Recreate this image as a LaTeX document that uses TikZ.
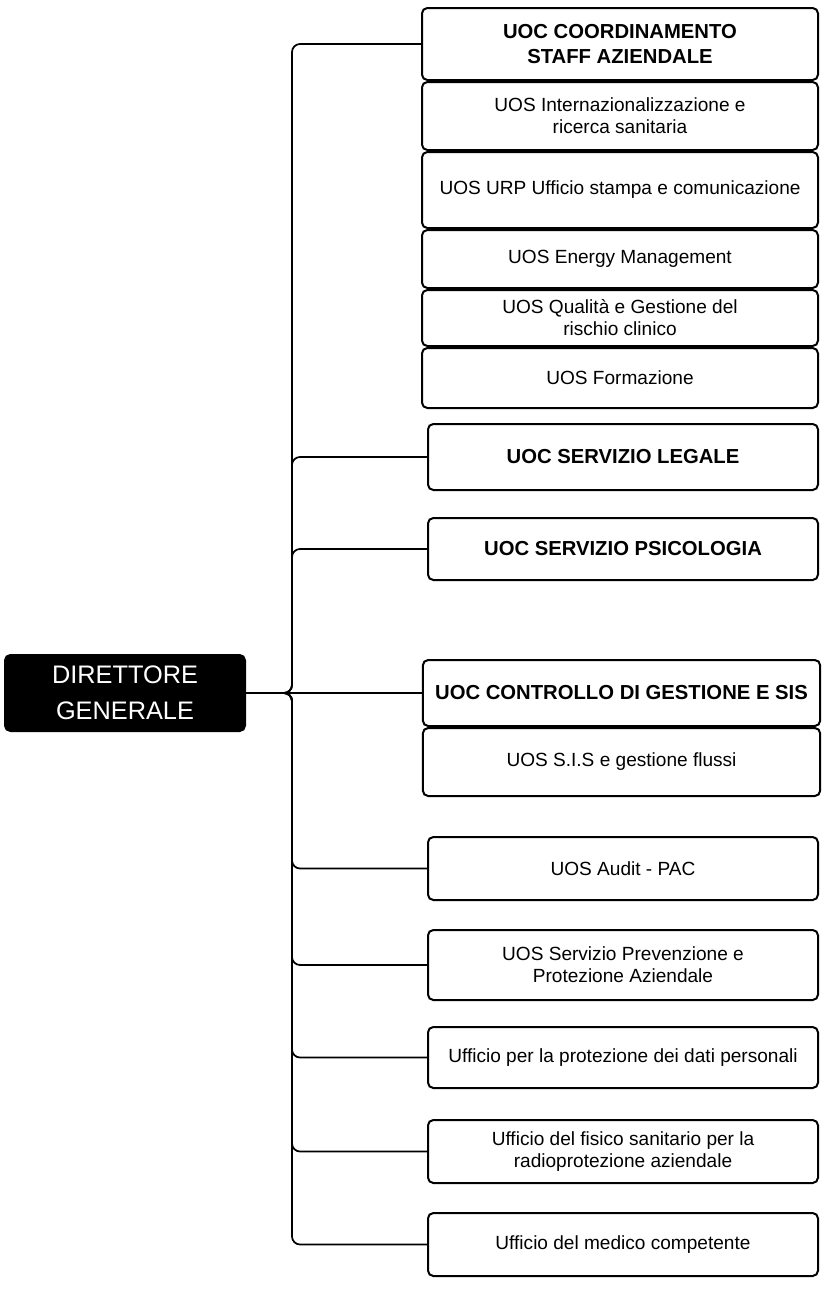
\documentclass[tikz,border=0pt]{standalone}
\usepackage{fontspec}
\setmainfont{Liberation Sans}
\usetikzlibrary{positioning}
\tikzset{
  unit/.style={rectangle, rounded corners=4pt, draw=black, line width=1.5pt, fill=white,
               align=center, minimum width=292.5pt, inner sep=2pt},
  uoc/.style={unit, font=\fontsize{15.2}{18.75}\selectfont\bfseries},
  uos/.style={unit, font=\fontsize{14.3}{16.5}\selectfont},
  headbox/.style={rectangle, rounded corners=4pt, draw=black, line width=1.5pt, fill=black,
                  text=white, align=center, minimum width=180pt, minimum height=57pt,
                  font=\fontsize{19}{27}\selectfont},
  link/.style={line width=1.3pt, rounded corners=6pt},
}

\begin{document}
\begin{tikzpicture}[x=0.75pt, y=-0.75pt]
\useasboundingbox (0,0) rectangle (824,1315);

\node[headbox] (dg) at (125,693) {DIRETTORE\\GENERALE};
\coordinate (trunk) at (292,693);

% staff aziendale
\node[uoc, minimum width=297pt, minimum height=54pt] (staff) at (620,44) {UOC COORDINAMENTO\\STAFF AZIENDALE};
\node[uos, minimum width=297pt, minimum height=51pt, below=0pt of staff] (intl) {UOS Internazionalizzazione e\\ricerca sanitaria};
\node[uos, minimum width=297pt, minimum height=57pt, below=0pt of intl] (urp) {UOS URP Ufficio stampa e comunicazione};
\node[uos, minimum width=297pt, minimum height=43.5pt, below=0pt of urp] (energy) {UOS Energy Management};
\node[uos, minimum width=297pt, minimum height=42pt, below=0pt of energy] (qual) {UOS Qualità e Gestione del\\rischio clinico};
\node[uos, minimum width=297pt, minimum height=45pt, below=0pt of qual] (form) {UOS Formazione};

\node[uoc, minimum height=49.5pt] (legale) at (623,457) {UOC SERVIZIO LEGALE};
\node[uoc, minimum height=46.5pt] (psico) at (623,549) {UOC SERVIZIO PSICOLOGIA};

% controllo di gestione
\node[uoc, minimum width=298pt, minimum height=49.5pt] (ctrl) at (621.5,693) {UOC CONTROLLO DI GESTIONE E SIS};
\node[uos, minimum width=298pt, minimum height=51pt, below=0pt of ctrl] (sis) {UOS S.I.S e gestione flussi};

\node[uos, minimum height=47.25pt] (audit) at (623,868.5) {UOS Audit - PAC};
\node[uos, minimum height=52.5pt] (spp) at (623,965) {UOS Servizio Prevenzione e\\Protezione Aziendale};
\node[uos, minimum height=45.75pt] (dpo) at (623,1057.5) {Ufficio per la protezione dei dati personali};
\node[uos, minimum height=47.25pt] (fisico) at (623,1151.5) {Ufficio del fisico sanitario per la\\radioprotezione aziendale};
\node[uos, minimum height=47.25pt] (medico) at (623,1244.5) {Ufficio del medico competente};

\draw[link] (dg.east) -- (ctrl.west);
\foreach \c in {staff,legale,psico,audit,spp,dpo,fisico,medico}
  \draw[link] (dg.east) -- (trunk) |- (\c.west);
\end{tikzpicture}
\end{document}
